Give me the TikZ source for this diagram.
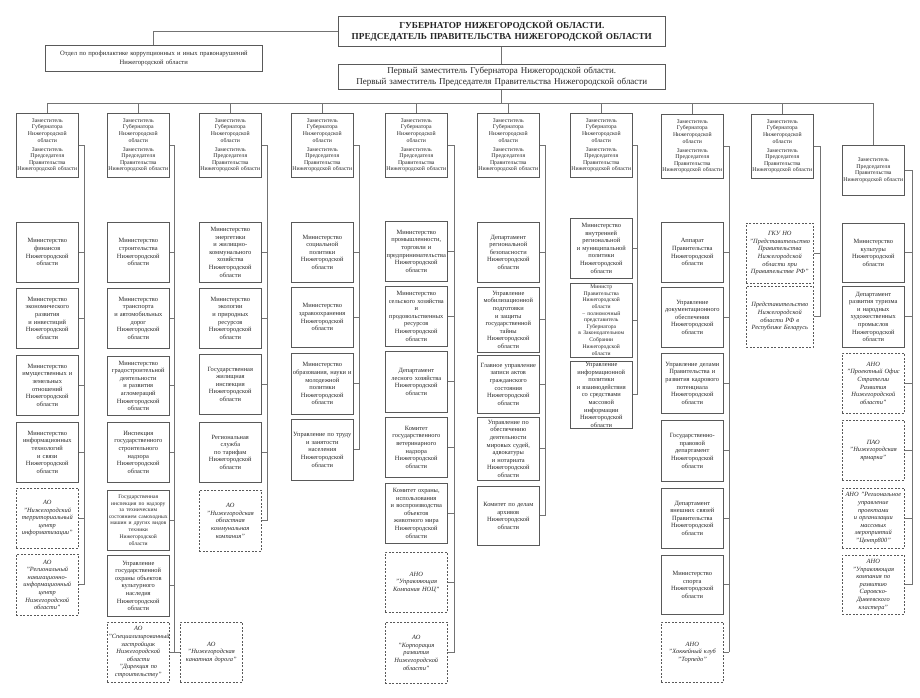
\documentclass[tikz,border=0pt]{standalone}
\usepackage{fontspec}
\setmainfont{Liberation Serif}
\tikzset{
  orgbox/.style={draw=black!65, line width=0.6pt, align=center, text width=60pt, inner xsep=1pt, inner ysep=1pt, anchor=north west, text=black!85, font=\fontsize{6.4}{7.6}\selectfont},
  subbox/.style={orgbox, dash pattern=on 2pt off 1.5pt, font=\fontsize{6.4}{7.6}\selectfont\itshape},
  depbox/.style={orgbox, font=\fontsize{5.8}{6.6}\selectfont},
  headbox/.style={draw=black!65, line width=0.6pt, align=center, anchor=north west, inner xsep=2pt, inner ysep=1pt, text=black!85},
  linkln/.style={draw=black!55, line width=0.7pt},
}
\newcommand{\tightfont}{\fontsize{5.6}{6.6}\selectfont}
\newcommand{\deptext}{Заместитель\\Губернатора\\Нижегородской\\области\\[2.5pt]Заместитель\\Председателя\\Правительства\\Нижегородской области}

\begin{document}
\begin{tikzpicture}[x=1pt, y=-1pt]
  \useasboundingbox (0,0) rectangle (920,698);
  % top of the chart
  \node[headbox, minimum width=327pt, minimum height=30pt, text width=321pt, font=\fontsize{9.2}{11.5}\selectfont\bfseries] (gov) at (338,16)
    {ГУБЕРНАТОР НИЖЕГОРОДСКОЙ ОБЛАСТИ.\\ПРЕДСЕДАТЕЛЬ ПРАВИТЕЛЬСТВА НИЖЕГОРОДСКОЙ ОБЛАСТИ};
  \node[headbox, minimum width=217pt, minimum height=26pt, text width=211pt, font=\fontsize{6.6}{8.6}\selectfont] (anti) at (45,45)
    {Отдел по профилактике коррупционных и иных правонарушений\\Нижегородской области};
  \node[headbox, minimum width=327pt, minimum height=25pt, text width=321pt, font=\fontsize{9}{11}\selectfont] (fdep) at (338,64)
    {Первый заместитель Губернатора Нижегородской области.\\Первый заместитель Председателя Правительства Нижегородской области};
  \draw[linkln] (gov.west) -| (anti.north);
  \draw[linkln] (gov.south) -- (gov.south |- fdep.north);
  \coordinate (bus) at (502,103);
  \draw[linkln] (fdep.south) -- (fdep.south |- bus);

  % deputies
  \foreach \k/\lx/\tp in {1/16/113, 2/107/113, 3/199/113, 4/291/113, 5/385/113, 6/477/113, 7/570/113, 8/661/114, 9/751/114}
    \node[depbox, minimum height=64pt] (dep\k) at (\lx,\tp) {\deptext};
  \node[depbox, minimum height=50pt] (dep10) at (842,145) {Заместитель\\Председателя\\Правительства\\Нижегородской области};
  \draw[linkln] (dep1.north |- bus) -- (dep10.north |- bus);
  \foreach \k in {1,...,10}
    \draw[linkln] (dep\k.north) -- (dep\k.north |- bus);
  \foreach \k/\sx in {1/84, 2/174, 3/267, 4/359, 5/454, 6/545, 7/637, 8/729, 9/820, 10/912}
    \coordinate (s\k) at (\sx,0);

  % column 1
  \foreach \nm/\st/\tp/\hgt/\txt in {
    c1a/orgbox/222/60/{Министерство\\финансов\\Нижегородской\\области},
    c1b/orgbox/288/60/{Министерство\\экономического\\развития\\и инвестиций\\Нижегородской\\области},
    c1c/orgbox/355/60/{Министерство\\имущественных и\\земельных\\отношений\\Нижегородской\\области},
    c1d/orgbox/422/60/{Министерство\\информационных\\технологий\\и связи\\Нижегородской\\области},
    c1e/subbox/488/60/{АО\\"Нижегородский\\территориальный\\центр\\информатизации"},
    c1f/subbox/554/61/{АО\\"Региональный\\навигационно-\\информационный\\центр\\Нижегородской\\области"}}{
    \node[\st, minimum height=\hgt pt] (\nm) at (16,\tp) {\txt};
    \draw[linkln] (\nm.east) -- (\nm.east -| s1);
  }

  % column 2
  \foreach \nm/\st/\tp/\hgt/\txt in {
    c2a/orgbox/222/60/{Министерство\\строительства\\Нижегородской\\области},
    c2b/orgbox/288/60/{Министерство\\транспорта\\и автомобильных\\дорог\\Нижегородской\\области},
    c2c/orgbox/356/59/{Министерство\\градостроительной\\деятельности\\и развития\\агломераций\\Нижегородской\\области},
    c2d/orgbox/422/60/{Инспекция\\государственного\\строительного\\надзора\\Нижегородской\\области},
    c2e/orgbox/490/60/{\tightfont Государственная\\инспекция по надзору\\за техническим\\состоянием самоходных\\машин и других видов\\техники\\Нижегородской\\области},
    c2f/orgbox/555/61/{Управление\\государственной\\охраны объектов\\культурного наследия\\Нижегородской\\области},
    c2g/subbox/622/60/{АО\\"Специализированный\\застройщик\\Нижегородской\\области\\"Дирекция по\\строительству"}}{
    \node[\st, minimum height=\hgt pt] (\nm) at (107,\tp) {\txt};
    \draw[linkln] (\nm.east) -- (\nm.east -| s2);
  }
  \node[subbox, minimum height=60pt] (c2h) at (180,622) {АО\\"Нижегородская\\канатная дорога"};
  \draw[linkln] (c2h.west) -- (c2h.west -| s2);

  % column 3
  \foreach \nm/\st/\tp/\hgt/\txt in {
    c3a/orgbox/222/60/{Министерство\\энергетики\\и жилищно-\\коммунального\\хозяйства\\Нижегородской\\области},
    c3b/orgbox/288/60/{Министерство\\экологии\\и природных\\ресурсов\\Нижегородской\\области},
    c3c/orgbox/354/60/{Государственная\\жилищная\\инспекция\\Нижегородской\\области},
    c3d/orgbox/422/60/{Региональная\\служба\\по тарифам\\Нижегородской\\области},
    c3e/subbox/490/61/{АО\\"Нижегородская\\областная\\коммунальная\\компания"}}{
    \node[\st, minimum height=\hgt pt] (\nm) at (199,\tp) {\txt};
    \draw[linkln] (\nm.east) -- (\nm.east -| s3);
  }

  % column 4
  \foreach \nm/\st/\tp/\hgt/\txt in {
    c4a/orgbox/222/60/{Министерство\\социальной\\политики\\Нижегородской\\области},
    c4b/orgbox/287/60/{Министерство\\здравоохранения\\Нижегородской\\области},
    c4c/orgbox/353/61/{Министерство\\образования, науки и\\молодежной\\политики\\Нижегородской\\области},
    c4d/orgbox/419/61/{Управление по труду\\и занятости\\населения\\Нижегородской\\области}}{
    \node[\st, minimum height=\hgt pt] (\nm) at (291,\tp) {\txt};
    \draw[linkln] (\nm.east) -- (\nm.east -| s4);
  }

  % column 5
  \foreach \nm/\st/\tp/\hgt/\txt in {
    c5a/orgbox/221/60/{Министерство\\промышленности,\\торговли и\\предпринимательства\\Нижегородской\\области},
    c5b/orgbox/286/60/{Министерство\\сельского хозяйства\\и\\продовольственных\\ресурсов\\Нижегородской\\области},
    c5c/orgbox/351/61/{Департамент\\лесного хозяйства\\Нижегородской\\области},
    c5d/orgbox/417/60/{Комитет\\государственного\\ветеринарного\\надзора\\Нижегородской\\области},
    c5e/orgbox/483/60/{Комитет охраны,\\использования\\и воспроизводства\\объектов\\животного мира\\Нижегородской\\области},
    c5f/subbox/552/60/{АНО\\"Управляющая\\Компания НОЦ"},
    c5g/subbox/622/61/{АО\\"Корпорация\\развития\\Нижегородской\\области"}}{
    \node[\st, minimum height=\hgt pt] (\nm) at (385,\tp) {\txt};
    \draw[linkln] (\nm.east) -- (\nm.east -| s5);
  }

  % column 6
  \foreach \nm/\st/\tp/\hgt/\txt in {
    c6a/orgbox/222/60/{Департамент\\региональной\\безопасности\\Нижегородской\\области},
    c6b/orgbox/287/65/{Управление\\мобилизационной\\подготовки\\и защиты\\государственной\\тайны\\Нижегородской\\области},
    c6c/orgbox/355/58/{Главное управление\\записи актов\\гражданского\\состояния\\Нижегородской\\области},
    c6d/orgbox/417/63/{Управление по\\обеспечению\\деятельности\\мировых судей,\\адвокатуры\\и нотариата\\Нижегородской\\области},
    c6e/orgbox/486/59/{Комитет по делам\\архивов\\Нижегородской\\области}}{
    \node[\st, minimum height=\hgt pt] (\nm) at (477,\tp) {\txt};
    \draw[linkln] (\nm.east) -- (\nm.east -| s6);
  }

  % column 7
  \foreach \nm/\st/\tp/\hgt/\txt in {
    c7a/orgbox/218/60/{Министерство\\внутренней\\региональной\\и муниципальной\\политики\\Нижегородской\\области},
    c7b/orgbox/283/74/{\tightfont Министр\\Правительства\\Нижегородской\\области\\– полномочный\\представитель\\Губернатора\\в Законодательном\\Собрании\\Нижегородской\\области},
    c7c/orgbox/361/66/{Управление\\информационной\\политики\\и взаимодействия\\со средствами\\массовой\\информации\\Нижегородской\\области}}{
    \node[\st, minimum height=\hgt pt] (\nm) at (570,\tp) {\txt};
    \draw[linkln] (\nm.east) -- (\nm.east -| s7);
  }

  % column 8
  \foreach \nm/\st/\tp/\hgt/\txt in {
    c8a/orgbox/222/60/{Аппарат\\Правительства\\Нижегородской\\области},
    c8b/orgbox/287/60/{Управление\\документационного\\обеспечения\\Нижегородской\\области},
    c8c/orgbox/353/60/{Управление делами\\Правительства и\\развития кадрового\\потенциала\\Нижегородской\\области},
    c8d/orgbox/420/61/{Государственно-\\правовой\\департамент\\Нижегородской\\области},
    c8e/orgbox/488/60/{Департамент\\внешних связей\\Правительства\\Нижегородской\\области},
    c8f/orgbox/555/59/{Министерство\\спорта\\Нижегородской\\области},
    c8g/subbox/622/60/{АНО\\"Хоккейный клуб\\"Торпедо"}}{
    \node[\st, minimum height=\hgt pt] (\nm) at (661,\tp) {\txt};
    \draw[linkln] (\nm.east) -- (\nm.east -| s8);
  }

  % column 9
  \foreach \nm/\st/\tp/\hgt/\txt in {
    c9a/subbox/223/60/{ГКУ НО\\"Представительство\\Правительства\\Нижегородской\\области при\\Правительстве РФ"},
    c9b/subbox/286/61/{Представительство\\Нижегородской\\области РФ в\\Республике Беларусь}}{
    \node[\st, text width=65pt, minimum height=\hgt pt] (\nm) at (746,\tp) {\txt};
    \draw[linkln] (\nm.east) -- (\nm.east -| s9);
  }

  % column 10
  \foreach \nm/\st/\tp/\hgt/\txt in {
    c10a/orgbox/223/59/{Министерство\\культуры\\Нижегородской\\области},
    c10b/orgbox/286/61/{Департамент\\развития туризма\\и народных\\художественных\\промыслов\\Нижегородской\\области},
    c10c/subbox/353/60/{АНО\\"Проектный Офис\\Стратегии\\Развития\\Нижегородской\\области"},
    c10d/subbox/420/60/{ПАО\\"Нижегородская\\ярмарка"},
    c10e/subbox/488/60/{АНО "Региональное\\управление\\проектами\\и организации\\массовых\\мероприятий\\"Центр800"},
    c10f/subbox/555/59/{АНО\\"Управляющая\\компания по\\развитию\\Саровско-\\Дивеевского\\кластера"}}{
    \node[\st, minimum height=\hgt pt] (\nm) at (842,\tp) {\txt};
    \draw[linkln] (\nm.east) -- (\nm.east -| s10);
  }

  % spines
  \foreach \k/\last in {1/c1f, 2/c2g, 3/c3e, 4/c4d, 5/c5g, 6/c6e, 7/c7c, 8/c8g, 9/c9b, 10/c10f}
    \draw[linkln] (dep\k.east) -- (dep\k.east -| s\k) -- (\last.east -| s\k);
\end{tikzpicture}
\end{document}
